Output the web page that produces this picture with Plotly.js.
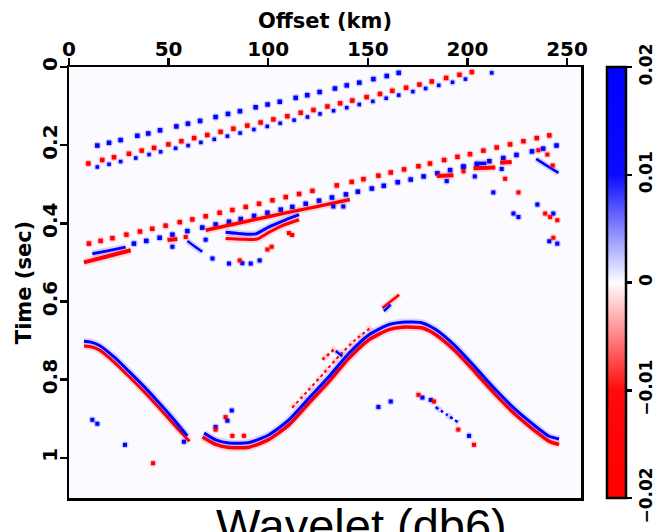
<!DOCTYPE html>
<html><head><meta charset="utf-8">
<script src="https://cdn.plot.ly/plotly-3.0.1.min.js"></script>
<style>html,body{margin:0;padding:0;background:#fff}#chart{width:657px;height:532px}</style>
</head><body><div id="chart"></div>
<script>
// ---------- axis ticks ----------
const xTicks = [0, 50, 100, 150, 200, 250];
const yTicks = [0, 0.2, 0.4, 0.6, 0.8, 1];
const yTickText = ['0', '0.2', '0.4', '0.6', '0.8', '1'];
const cTicks = [-0.02, -0.01, 0, 0.01, 0.02];

// ---------- event A : blue dots (shallow) ----------
const evA_x = [14.2,20.1,25.9,34.3,39.8,45.7,53.9,59.7,65.8,73.6,79.8,85.8,93.7,99.7,105.8,113.8,119.6,125.8,133.5,139.4,145.7,152.8,159.5,165.5];
const evA_t = [0.201,0.194,0.187,0.176,0.170,0.162,0.152,0.145,0.138,0.128,0.120,0.113,0.103,0.096,0.089,0.079,0.072,0.064,0.055,0.047,0.040,0.031,0.023,0.015];
const evA_amp = 0.02;

// ---------- event B : red crest + blue trough ----------
const evBr_x = [9.7,16.7,22.6,30.1,36.5,42.7,49.9,56.4,62.8,69.4,76.1,82.5,89.5,96.2,102.6,109.6,116.3,122.7,129.7,136.1,142.2,149.4,156.1,162.3,169.2,175.9,182.1,189.3,196.0,202.2];
const evBr_t = [0.247,0.238,0.231,0.222,0.214,0.207,0.198,0.190,0.182,0.174,0.166,0.158,0.150,0.142,0.134,0.126,0.117,0.110,0.101,0.093,0.086,0.077,0.069,0.061,0.053,0.045,0.037,0.028,0.020,0.013];
const evBr_amp = -0.02;
const evBb_x = [14.2,20.1,25.9,33.5,40.2,46.0,53.5,59.8,66.2,72.9,79.5,85.9,92.8,99.5,106.0,113.0,119.7,126.0,132.8,139.4,145.7,152.5,159.2,165.5,172.6,179.0,185.6,192.5,199.0,212.2];
const evBb_t = [0.256,0.249,0.242,0.233,0.224,0.217,0.208,0.201,0.193,0.185,0.177,0.169,0.160,0.152,0.144,0.136,0.128,0.120,0.112,0.104,0.096,0.088,0.080,0.072,0.063,0.055,0.047,0.039,0.031,0.015];
const evBb_amp = 0.02;

// ---------- event C : red crest row, blue row, red band ----------
const evCr_x = [10.0,15.9,21.8,28.8,35.6,41.8,48.5,55.6,61.9,68.6,75.6,82.0,88.7,95.4,102.1,108.8,115.5,122.2,134.4,141.9,147.8,155.3,161.5,168.2,175.4,181.2,188.3,195.0,201.3,208.0,214.7,221.4,228.1,234.8,241.1];
const evCr_t = [0.452,0.445,0.438,0.429,0.421,0.414,0.406,0.397,0.390,0.382,0.373,0.366,0.358,0.350,0.341,0.333,0.325,0.317,0.303,0.294,0.287,0.278,0.270,0.262,0.254,0.247,0.238,0.230,0.223,0.214,0.206,0.198,0.190,0.182,0.175];
const evCr_amp = -0.02;
const evCb_x = [32.6,38.8,45.5,51.9,59.4,66.9,73.6,80.3,86.2,92.9,99.6,106.3,112.1,118.8,125.5,132.0,139.0,145.0,152.0,158.0,165.0,171.5,178.0,184.9,191.3,198.0,204.7,211.0,218.0,224.6,232.4,238.0,244.7];
const evCb_t = [0.452,0.445,0.437,0.429,0.420,0.411,0.403,0.396,0.389,0.381,0.373,0.365,0.358,0.350,0.342,0.334,0.326,0.319,0.311,0.304,0.295,0.288,0.280,0.272,0.264,0.256,0.249,0.241,0.233,0.225,0.216,0.209,0.201];
const evCb_amp = 0.02;
// strong bands at the near offsets
const bandBlueL_x = [11.7, 20.0, 28.4];
const bandBlueL_t = [0.478, 0.470, 0.461];
const bandRedL_x = [7.5, 19.0, 31.0];
const bandRedL_t = [0.500, 0.485, 0.469];
// red band under the blue row
const bandRedM_x = [68.6, 90.0, 110.0, 123.8, 141.0];
const bandRedM_t = [0.418, 0.394, 0.372, 0.358, 0.339];
const dashRed1_x = [49.4, 54.4]; const dashRed1_t = [0.443, 0.440];
const dashRed2_x = [184.6, 193.0]; const dashRed2_t = [0.279, 0.277];
const dashRed3_x = [203.0, 214.0]; const dashRed3_t = [0.259, 0.257];
const dashRed4_x = [216.4, 222.2]; const dashRed4_t = [0.245, 0.243];
const dashBlue1_x = [203.7, 209.5]; const dashBlue1_t = [0.247, 0.246];
// arc below
const arcBlue_x = [78.6, 87.0, 93.7, 100.4, 108.8, 115.5];
const arcBlue_t = [0.423, 0.427, 0.427, 0.409, 0.391, 0.378];
const arcRed_x = [78.6, 87.0, 94.5, 100.4, 107.1, 115.5];
const arcRed_t = [0.439, 0.441, 0.440, 0.423, 0.406, 0.391];
const diagBlue_x = [59.4, 63.0, 66.9]; const diagBlue_t = [0.445, 0.459, 0.473];
const diagBlueR_x = [234.5, 240.0, 245.7]; const diagBlueR_t = [0.235, 0.253, 0.271];

// scattered diffractions (upper part)
const ptsBlueU_x = [51.9,72.0,80.3,87.0,91.2,95.7,68.6,189.6,198.0,203.7,217.2,213.0,235.1,223.1,225.6,243.1,241.1,245.1,132.7,137.7];
const ptsBlueU_t = [0.460,0.490,0.503,0.502,0.503,0.495,0.442,0.292,0.254,0.280,0.261,0.321,0.352,0.375,0.384,0.375,0.446,0.452,0.357,0.357];
const ptsRedU_x = [85.7,99.6,101.7,58.6,110.4,112.0,198.0,218.9,225.6,239.0,241.5,245.1,243.1,235.6,240.1,242.8];
const ptsRedU_t = [0.495,0.467,0.460,0.435,0.425,0.430,0.267,0.286,0.321,0.375,0.384,0.392,0.437,0.213,0.224,0.252];

// ---------- deep event (big curve) ----------
const curveL_blue_x = [7.5, 11.0, 15.1, 22.6, 30.1, 37.7, 45.2, 52.3, 59.4];
const curveL_blue_t = [0.702, 0.704, 0.712, 0.742, 0.779, 0.818, 0.859, 0.900, 0.944];
const curveL_red_x = [7.5, 11.0, 15.1, 22.6, 30.1, 37.7, 45.2, 52.3, 59.4, 60.5];
const curveL_red_t = [0.714, 0.716, 0.724, 0.755, 0.792, 0.831, 0.872, 0.913, 0.952, 0.958];
const curveR_blue_x = [67.8, 73.6, 80.3, 90.4, 100.4, 110.4, 120.5, 130.5, 140.6, 150.6, 160.6, 167.3, 177.4, 184.1, 194.1, 204.2, 214.2, 224.2, 234.3, 241.0, 246.0];
const curveR_blue_t = [0.937, 0.954, 0.962, 0.961, 0.941, 0.903, 0.847, 0.792, 0.732, 0.685, 0.659, 0.653, 0.655, 0.672, 0.715, 0.770, 0.826, 0.877, 0.920, 0.945, 0.952];
const curveR_red_x = [67.0, 73.6, 80.3, 90.4, 100.4, 110.4, 120.5, 130.5, 140.6, 150.6, 160.6, 167.3, 177.4, 184.1, 194.1, 204.2, 214.2, 224.2, 234.3, 241.0, 246.0];
const curveR_red_t = [0.947, 0.966, 0.974, 0.973, 0.953, 0.916, 0.860, 0.805, 0.745, 0.698, 0.672, 0.666, 0.668, 0.685, 0.728, 0.783, 0.839, 0.890, 0.933, 0.958, 0.966];
const ghostRed_x = [112.0, 120.0, 128.0, 136.0, 144.0, 152.0];
const ghostRed_t = [0.872, 0.828, 0.783, 0.737, 0.697, 0.665];
const fragRed1_x = [157.3, 165.7]; const fragRed1_t = [0.617, 0.583];
const fragBlue1_x = [158.1, 161.5]; const fragBlue1_t = [0.625, 0.608];
const fragRed2_x = [127.2, 133.9]; const fragRed2_t = [0.749, 0.719];
const fragBlue2_x = [133.9, 137.2]; const fragBlue2_t = [0.727, 0.740];
const fragBlue3_x = [184.0, 190.0, 195.8]; const fragBlue3_t = [0.870, 0.891, 0.911];
const ptsBlueD_x = [11.7,14.2,28.1,57.7,81.7,79.5,73.6,155.3,161.5,177.4,181.6,200.8];
const ptsBlueD_t = [0.903,0.913,0.967,0.959,0.879,0.905,0.921,0.870,0.856,0.846,0.852,0.944];
const ptsRedD_x = [42.2,78.6,73.6,82.0,87.8,175.4,183.2,195.4,203.3];
const ptsRedD_t = [1.014,0.896,0.928,0.944,0.944,0.839,0.856,0.928,0.967];

// ---------- styling / drawing ----------
const BLUE = 'rgb(0,0,255)', RED = 'rgb(255,0,0)';
const traces = [];
function dots(x, t, amp, size) {
  const c = x.map(() => amp);
  traces.push({type:'scatter', mode:'markers', x:x, y:t, hoverinfo:'skip', showlegend:false,
    marker:{color:c, coloraxis:'coloraxis', size:size + 3, opacity:0.22, line:{width:0}}});
  traces.push({type:'scatter', mode:'markers', x:x, y:t, hoverinfo:'skip', showlegend:false,
    marker:{color:c, coloraxis:'coloraxis', size:size, opacity:1, symbol:'square', line:{width:0}}});
}
function line(x, t, amp, width, dash) {
  const col = amp > 0 ? BLUE : RED;
  traces.push({type:'scatter', mode:'lines', x:x, y:t, hoverinfo:'skip', showlegend:false,
    line:{color:col, width:width + 4, dash:dash || 'solid', shape:'spline', smoothing:0.6}, opacity:0.15});
  traces.push({type:'scatter', mode:'lines', x:x, y:t, hoverinfo:'skip', showlegend:false,
    line:{color:col, width:width, dash:dash || 'solid', shape:'spline', smoothing:0.6}});
}

dots(evA_x, evA_t, evA_amp, 4.5);
dots(evBr_x, evBr_t, evBr_amp, 4.5);
dots(evBb_x, evBb_t, evBb_amp, 3.5);
dots(evCr_x, evCr_t, evCr_amp, 4.5);
dots(evCb_x, evCb_t, evCb_amp, 4.5);
line(bandBlueL_x, bandBlueL_t, 0.02, 3);
line(bandRedL_x, bandRedL_t, -0.02, 4);
line(bandRedM_x, bandRedM_t, -0.02, 3.5);
line(dashRed1_x, dashRed1_t, -0.02, 4);
line(dashRed2_x, dashRed2_t, -0.02, 4);
line(dashRed3_x, dashRed3_t, -0.02, 4);
line(dashRed4_x, dashRed4_t, -0.02, 4);
line(dashBlue1_x, dashBlue1_t, 0.02, 3.5);
line(arcBlue_x, arcBlue_t, 0.02, 3);
line(arcRed_x, arcRed_t, -0.02, 3);
line(diagBlue_x, diagBlue_t, 0.02, 2.5);
line(diagBlueR_x, diagBlueR_t, 0.02, 2.5);
dots(ptsBlueU_x, ptsBlueU_t, 0.02, 4);
dots(ptsRedU_x, ptsRedU_t, -0.02, 4);

line(ghostRed_x, ghostRed_t, -0.02, 2, 'dot');
line(curveL_red_x, curveL_red_t, -0.02, 3);
line(curveL_blue_x, curveL_blue_t, 0.02, 3);
line(curveR_red_x, curveR_red_t, -0.02, 3.5);
line(curveR_blue_x, curveR_blue_t, 0.02, 3);
line(fragRed1_x, fragRed1_t, -0.02, 2.5);
line(fragBlue1_x, fragBlue1_t, 0.02, 2.5);
line(fragRed2_x, fragRed2_t, -0.02, 2.5, 'dot');
line(fragBlue2_x, fragBlue2_t, 0.02, 2.5);
line(fragBlue3_x, fragBlue3_t, 0.02, 2.5, 'dot');
dots(ptsBlueD_x, ptsBlueD_t, 0.02, 4);
dots(ptsRedD_x, ptsRedD_t, -0.02, 4);

const boldFont = {family:'DejaVu Sans', size:20, color:'#000', weight:'bold'};
const cbFont = {family:'DejaVu Sans', size:17, color:'#000', weight:'bold'};
const layout = {
  width:657, height:532,
  margin:{l:69, r:76, t:67, b:34, autoexpand:false},
  paper_bgcolor:'#ffffff', plot_bgcolor:'rgb(251,251,255)',
  showlegend:false,
  title:{text:'Wavelet (db6)', font:{family:'Liberation Sans', size:47, color:'#000'},
         xref:'container', x:0.55, xanchor:'center', yref:'container', y:0.043, yanchor:'top'},
  xaxis:{side:'top', range:[0, 257], tickvals:xTicks, ticks:'outside', ticklen:7, tickwidth:2.5,
         tickcolor:'#000', showline:true, linewidth:2.5, linecolor:'#000', mirror:true,
         showgrid:false, zeroline:false, tickfont:boldFont, ticklabelstandoff:-6,
         title:{text:'Offset (km)', font:{family:'DejaVu Sans', size:21, color:'#000', weight:'bold'}, standoff:2}},
  yaxis:{range:[1.103, 0], tickvals:yTicks, ticktext:yTickText, tickangle:-90, ticks:'outside',
         ticklen:7, tickwidth:2.5, tickcolor:'#000', showline:true, linewidth:2.5, linecolor:'#000',
         mirror:true, showgrid:false, zeroline:false, tickfont:boldFont, ticklabelstandoff:-5,
         title:{text:'Time (sec)', font:{family:'DejaVu Sans', size:21, color:'#000', weight:'bold'}, standoff:0}},
  coloraxis:{cmin:-0.02, cmax:0.02,
    colorscale:[[0,'rgb(255,0,0)'],[0.25,'rgb(255,10,10)'],[0.5,'rgb(253,253,255)'],[0.75,'rgb(10,10,255)'],[1,'rgb(0,0,255)']],
    colorbar:{x:1.0508, xanchor:'left', xref:'paper', xpad:0, ypad:0, y:0.5, yanchor:'middle', len:1,
      thickness:19, outlinewidth:2.5, outlinecolor:'#000', tickvals:cTicks, ticks:'outside', ticklen:5,
      tickwidth:2.5, tickcolor:'#000', tickangle:-90, tickfont:cbFont}}
};
Plotly.newPlot('chart', traces, layout, {displayModeBar:false, staticPlot:true});
</script></body></html>
